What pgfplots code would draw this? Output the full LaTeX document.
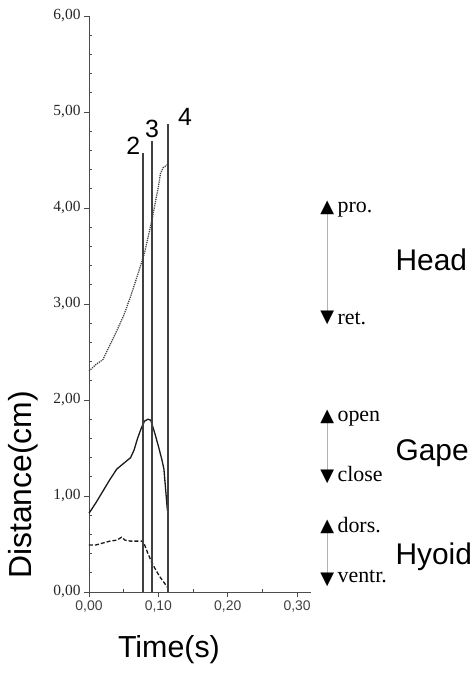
\documentclass[border=0pt]{standalone}
\usepackage{pgfplots}
\pgfplotsset{compat=1.18}
\usepackage{fontspec}
\setmainfont{Liberation Serif}
\setsansfont{Liberation Sans}
\newfontfamily\symfont{DejaVu Sans}
\newfontfamily\arialfont{Liberation Sans}
\begin{document}
\begin{tikzpicture}
\useasboundingbox (-89bp,-85bp) rectangle (387bp,592bp);
\begin{axis}[
  scale only axis, width=222bp, height=576bp,
  xmin=0, xmax=0.32, ymin=0, ymax=6,
  axis lines*=left,
  clip=false,
  axis line style={black!70, line width=0.8bp},
  xtick={0,0.1,0.2,0.3}, ytick={0,1,2,3,4,5,6},
  xticklabels={{0,00},{0,10},{0,20},{0,30}},
  yticklabels={{0,00},{1,00},{2,00},{3,00},{4,00},{5,00},{6,00}},
  minor x tick num=1, minor y tick num=4,
  tick align=outside,
  major tick length=5bp, minor tick length=3bp,
  every tick/.style={black!70, line width=0.8bp},
  every minor y tick/.append style={xshift=3bp},
  every minor x tick/.append style={yshift=3bp},
  x tick label style={font=\arialfont\fontsize{14}{16}\selectfont, text=black!75},
  y tick label style={font=\rmfamily\fontsize{15.5}{17}\selectfont, text=black!85},
  ylabel={Distance(cm)},
  ylabel style={font=\arialfont\fontsize{32}{36}\selectfont, at={(axis description cs:-0.297,0.186)}, anchor=center},
  xlabel={Time(s)},
  xlabel style={font=\arialfont\fontsize{30.5}{34}\selectfont, at={(axis description cs:0.36,-0.1007)}, anchor=center},
]
% Head (dotted)
\addplot[black!75, line width=1.3bp, dash pattern=on 1.2bp off 1bp] coordinates {
 (0,2.30) (0.01,2.37) (0.02,2.42) (0.03,2.57) (0.04,2.72) (0.05,2.88)
 (0.06,3.08) (0.07,3.30) (0.08,3.53) (0.09,3.85) (0.10,4.22) (0.103,4.36)
 (0.107,4.42) (0.113,4.45)};
% Gape (solid)
\addplot[black!90, line width=1.3bp] coordinates {
 (0,0.82) (0.01,0.93) (0.02,1.05) (0.03,1.17) (0.04,1.28) (0.05,1.34)
 (0.06,1.40) (0.065,1.48) (0.07,1.60) (0.075,1.70) (0.08,1.78) (0.085,1.80)
 (0.089,1.79) (0.095,1.65) (0.10,1.52) (0.105,1.38) (0.108,1.28) (0.113,0.85)};
% Hyoid (dashed)
\addplot[black!90, line width=1.3bp, dash pattern=on 4bp off 2bp] coordinates {
 (0,0.49) (0.01,0.49) (0.02,0.51) (0.03,0.53) (0.04,0.54) (0.047,0.57)
 (0.052,0.54) (0.06,0.53) (0.07,0.53) (0.078,0.53) (0.085,0.40) (0.091,0.30)
 (0.097,0.22) (0.102,0.16) (0.108,0.10) (0.113,0.05)};
% vertical event lines
\addplot[black!75, line width=1.6bp] coordinates {(0.078,0) (0.078,4.57)};
\addplot[black!75, line width=1.6bp] coordinates {(0.091,0) (0.091,4.70)};
\addplot[black!75, line width=1.6bp] coordinates {(0.114,0) (0.114,4.88)};
\node[font=\arialfont\fontsize{25}{27}\selectfont] at (axis cs:0.064,4.65) {2};
\node[font=\arialfont\fontsize{25}{27}\selectfont] at (axis cs:0.0909,4.82) {3};
\node[font=\arialfont\fontsize{25}{27}\selectfont] at (axis cs:0.1385,4.95) {4};
% annotations
\draw[black!30, line width=1bp] (axis cs:0.3434,4.0) -- (axis cs:0.3434,2.854);
\draw[black!30, line width=1bp] (axis cs:0.3434,1.823) -- (axis cs:0.3434,1.198);
\draw[black!30, line width=1bp] (axis cs:0.3434,0.677) -- (axis cs:0.3434,0.125);
\node[font=\symfont\fontsize{18}{20}\selectfont, inner sep=0pt] at (axis cs:0.3434,4.0) {▲};
\node[font=\symfont\fontsize{18}{20}\selectfont, inner sep=0pt] at (axis cs:0.3434,2.854) {▼};
\node[font=\symfont\fontsize{18}{20}\selectfont, inner sep=0pt] at (axis cs:0.3434,1.823) {▲};
\node[font=\symfont\fontsize{18}{20}\selectfont, inner sep=0pt] at (axis cs:0.3434,1.198) {▼};
\node[font=\symfont\fontsize{18}{20}\selectfont, inner sep=0pt] at (axis cs:0.3434,0.677) {▲};
\node[font=\symfont\fontsize{18}{20}\selectfont, inner sep=0pt] at (axis cs:0.3434,0.125) {▼};
\node[font=\rmfamily\fontsize{22}{24}\selectfont, anchor=base west, inner sep=0pt] at (axis cs:0.3580,3.958) {pro.};
\node[font=\rmfamily\fontsize{22}{24}\selectfont, anchor=base west, inner sep=0pt] at (axis cs:0.3580,2.79) {ret.};
\node[font=\rmfamily\fontsize{22}{24}\selectfont, anchor=base west, inner sep=0pt] at (axis cs:0.3580,1.771) {open};
\node[font=\rmfamily\fontsize{22}{24}\selectfont, anchor=base west, inner sep=0pt] at (axis cs:0.3580,1.146) {close};
\node[font=\rmfamily\fontsize{22}{24}\selectfont, anchor=base west, inner sep=0pt] at (axis cs:0.3580,0.625) {dors.};
\node[font=\rmfamily\fontsize{22}{24}\selectfont, anchor=base west, inner sep=0pt] at (axis cs:0.3580,0.094) {ventr.};
\node[font=\arialfont\fontsize{30}{33}\selectfont, anchor=west, inner sep=0pt] at (axis cs:0.4416,3.458) {Head};
\node[font=\arialfont\fontsize{30}{33}\selectfont, anchor=west, inner sep=0pt] at (axis cs:0.4416,1.448) {Gape};
\node[font=\arialfont\fontsize{30}{33}\selectfont, anchor=west, inner sep=0pt] at (axis cs:0.4416,0.365) {Hyoid};
\end{axis}
\end{tikzpicture}
\end{document}
